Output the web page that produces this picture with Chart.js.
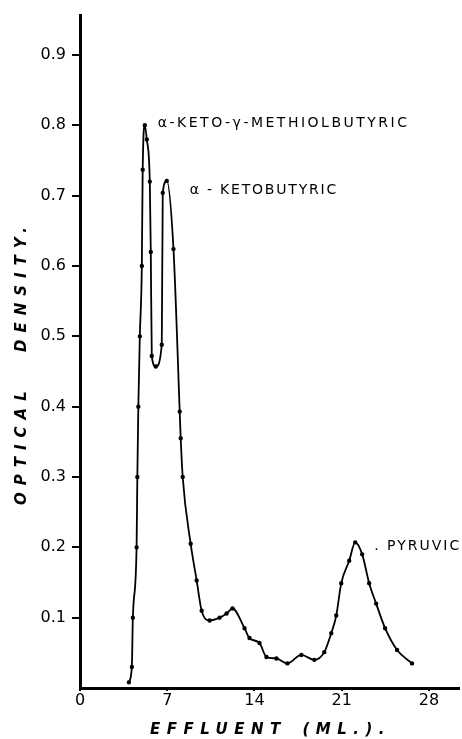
<!DOCTYPE html>
<html>
<head>
<meta charset="utf-8">
<script src="https://cdn.jsdelivr.net/npm/chart.js@4/dist/chart.umd.min.js"></script>
<style>
html,body{margin:0;padding:0;background:#fff;}
#wrap{width:462px;height:739px;position:relative;}
</style>
</head>
<body>
<div id="wrap"><canvas id="c" width="462" height="739"></canvas></div>
<script>
// Effluent volume (ml) and optical density
const effluentMl = [3.92, 4.16, 4.24, 4.54, 4.6, 4.68, 4.8, 4.96, 5.03, 5.2, 5.36, 5.6, 5.68, 5.76, 6.08, 6.56, 6.64, 6.96, 7.5, 8.0, 8.08, 8.24, 8.88, 9.36, 9.76, 10.4, 11.2, 11.76, 12.24, 13.2, 13.6, 14.4, 14.96, 15.76, 16.64, 17.76, 18.8, 19.6, 20.16, 20.56, 20.96, 21.6, 22.08, 22.64, 23.2, 23.76, 24.48, 25.44, 26.64];
const opticalDensity = [0.008, 0.03, 0.10, 0.20, 0.30, 0.40, 0.50, 0.60, 0.737, 0.80, 0.78, 0.72, 0.62, 0.472, 0.457, 0.488, 0.704, 0.721, 0.624, 0.393, 0.355, 0.30, 0.205, 0.153, 0.11, 0.096, 0.10, 0.106, 0.113, 0.085, 0.071, 0.064, 0.044, 0.042, 0.035, 0.047, 0.04, 0.051, 0.078, 0.103, 0.149, 0.181, 0.207, 0.19, 0.149, 0.12, 0.085, 0.054, 0.035];
const xTickValues = [0, 7, 14, 21, 28];
const yTickValues = [0.1, 0.2, 0.3, 0.4, 0.5, 0.6, 0.7, 0.8, 0.9];
const peakLabels = ["α-KETO-γ-METHIOLBUTYRIC", "α - KETOBUTYRIC", ". PYRUVIC"];
const peakLabelX = [6.24, 8.8, 23.6];
const peakLabelY = [0.803, 0.707, 0.202];
const xTitle = "EFFLUENT (ML.).";
const yTitle = "OPTICAL DENSITY.";

const points = effluentMl.map((x, i) => ({x: x, y: opticalDensity[i]}));

const textPlugin = {
  id: 'texts',
  afterDraw(chart) {
    const ctx = chart.ctx;
    const xs = chart.scales.x, ys = chart.scales.y;
    ctx.save();
    ctx.fillStyle = '#000';
    ctx.font = '14px "DejaVu Sans", sans-serif';
    ctx.textBaseline = 'middle';
    ctx.textAlign = 'left';
    ctx.letterSpacing = '2.5px';
    ctx.fillText(peakLabels[0], xs.getPixelForValue(peakLabelX[0]), ys.getPixelForValue(peakLabelY[0]));
    ctx.letterSpacing = '1.8px';
    ctx.fillText(peakLabels[1], xs.getPixelForValue(peakLabelX[1]), ys.getPixelForValue(peakLabelY[1]));
    ctx.letterSpacing = '2px';
    ctx.fillText(peakLabels[2], xs.getPixelForValue(peakLabelX[2]), ys.getPixelForValue(peakLabelY[2]));
    // axis titles
    ctx.font = 'italic bold 15px "DejaVu Sans", sans-serif';
    ctx.letterSpacing = '6.5px';
    ctx.wordSpacing = '4px';
    ctx.textAlign = 'left';
    ctx.fillText(xTitle, 150, 730);
    ctx.letterSpacing = '7px';
    ctx.wordSpacing = '20px';
    ctx.translate(22, 505);
    ctx.rotate(-Math.PI / 2);
    ctx.fillText(yTitle, 0, 0);
    ctx.letterSpacing = '0px';
    ctx.wordSpacing = '0px';
    ctx.restore();
  }
};

new Chart(document.getElementById('c'), {
  type: 'line',
  data: {
    datasets: [{
      data: points,
      borderColor: '#000',
      backgroundColor: '#000',
      borderWidth: 1.8,
      pointRadius: 1.3,
      pointHoverRadius: 1.3,
      cubicInterpolationMode: 'monotone',
      fill: false
    }]
  },
  options: {
    responsive: false,
    animation: false,
    devicePixelRatio: 1,
    layout: {padding: {left: 0, right: 2, top: 12, bottom: 0}},
    plugins: {legend: {display: false}, tooltip: {enabled: false}},
    scales: {
      x: {
        type: 'linear',
        min: 0,
        max: 30.4,
        afterBuildTicks: s => { s.ticks = xTickValues.map(v => ({value: v})); },
        afterFit: s => { s.height = 51; },
        grid: {drawOnChartArea: false, drawTicks: true, tickLength: 3, color: '#000', lineWidth: 2},
        border: {display: true, color: '#000', width: 3},
        ticks: {color: '#000', padding: 0, font: {family: '"DejaVu Sans", sans-serif', size: 16}, maxRotation: 0}
      },
      y: {
        type: 'linear',
        min: 0,
        max: 0.956,
        afterBuildTicks: s => { s.ticks = yTickValues.map(v => ({value: v})); },
        afterFit: s => { s.width = 80; },
        grid: {drawOnChartArea: false, drawTicks: true, tickLength: 8, color: '#000', lineWidth: 2},
        border: {display: true, color: '#000', width: 3},
        ticks: {color: '#000', padding: 6, font: {family: '"DejaVu Sans", sans-serif', size: 16}, callback: v => v.toFixed(1)}
      }
    }
  },
  plugins: [textPlugin]
});
</script>
</body>
</html>
